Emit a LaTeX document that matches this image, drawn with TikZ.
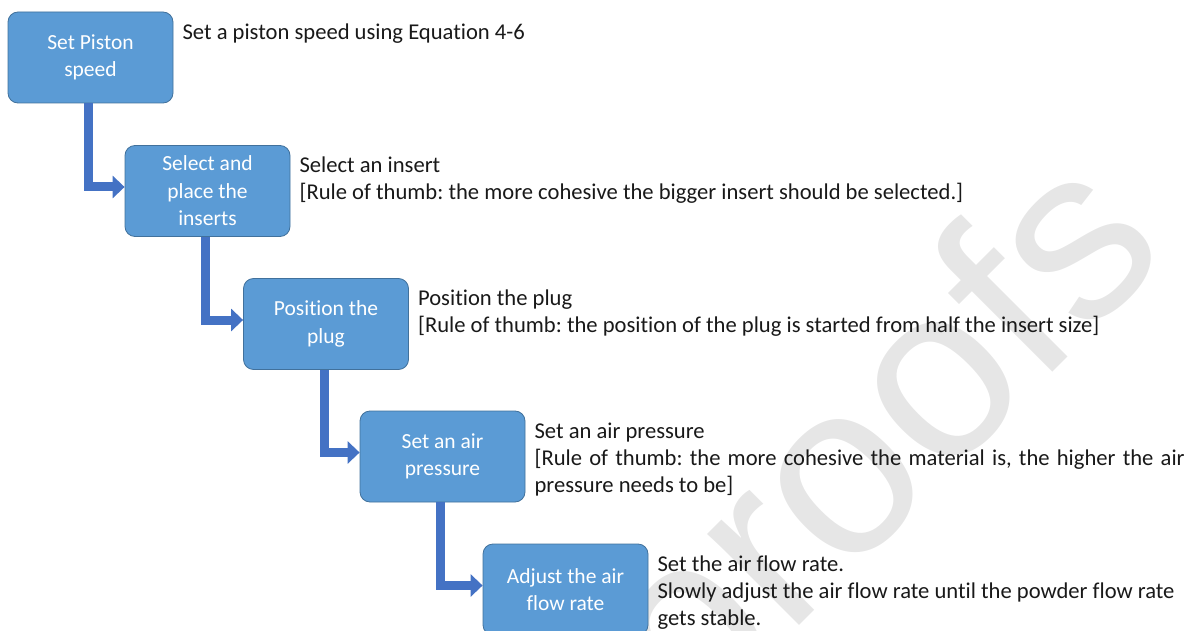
\documentclass[tikz,border=0pt]{standalone}
\usepackage{fontspec}
\setmainfont{Carlito}[Ligatures=NoCommon]
\newfontfamily\markfont{Liberation Sans}
\usetikzlibrary{positioning,arrows.meta}
\definecolor{boxblue}{HTML}{5B9BD5}
\definecolor{boxline}{HTML}{41719C}
\definecolor{linkblue}{HTML}{4472C4}
\definecolor{markgray}{HTML}{E6E6E6}
\frenchspacing
\tikzset{
	stepbox/.style={draw=boxline, fill=boxblue, rounded corners=10pt, line width=0.8pt,
		minimum width=165pt, minimum height=91pt, align=center,
		text=white, font=\fontsize{21.5}{27.5}\selectfont},
	note/.style={anchor=north west, inner sep=0pt, text=black!90,
		font=\fontsize{22.6}{27}\selectfont},
	link/.style={draw=linkblue, line width=9pt, -{Triangle[length=12pt,width=22pt]}}
}
\begin{document}
\begin{tikzpicture}[x=1pt,y=-1pt]
		\useasboundingbox (0,0) rectangle (1188,631);
		\clip (0,0) rectangle (1188,631);
		% watermark
		\node[rotate=45, anchor=base east, text=markgray, font=\markfont\fontsize{245}{245}\selectfont] (mark) at (1175,250) {Pre-proofs};
		% steps
		\node[stepbox] (piston) at (90.5,57.5) {Set Piston\\speed};
		\node[stepbox] (insert) at (207.5,191) {Select and\\place the\\inserts};
		\node[stepbox] (plug) at (326,324) {Position the\\plug};
		\node[stepbox] (pressure) at (442.5,456.5) {Set an air\\pressure};
		\node[stepbox] (flow) at (565.5,589.5) {Adjust the air\\flow rate};
		% notes
		\node[note, align=left] (pistonnote) at ([shift={(9,12)}]piston.north east)
			{Set a piston speed using Equation 4-6};
		\node[note, align=left] (insertnote) at ([shift={(9,12)}]insert.north east)
			{Select an insert\\{[}Rule of thumb: the more cohesive the bigger insert should be selected.]};
		\node[note, align=left] (plugnote) at ([shift={(9,12)}]plug.north east)
			{Position the plug\\{[}Rule of thumb: the position of the plug is started from half the insert size]};
		\node[note, text width=650pt, align=justify] (pressurenote) at ([shift={(9,12)}]pressure.north east)
			{Set an air pressure\\{[}Rule of thumb: the more cohesive the material is, the higher the air\linebreak pressure needs to be]};
		\node[note, align=left] (flownote) at ([shift={(9,12)}]flow.north east)
			{Set the air flow rate.\\Slowly adjust the air flow rate until the powder flow rate\\gets stable.};
		% links
		\draw[link] ([xshift=-2pt]piston.south) |- ([yshift=4pt]insert.west);
		\draw[link] ([xshift=-2pt]insert.south) |- ([yshift=4pt]plug.west);
		\draw[link] ([xshift=-2pt]plug.south) |- ([yshift=4pt]pressure.west);
		\draw[link] ([xshift=-2pt]pressure.south) |- ([yshift=4pt]flow.west);
	\end{tikzpicture}
\end{document}
